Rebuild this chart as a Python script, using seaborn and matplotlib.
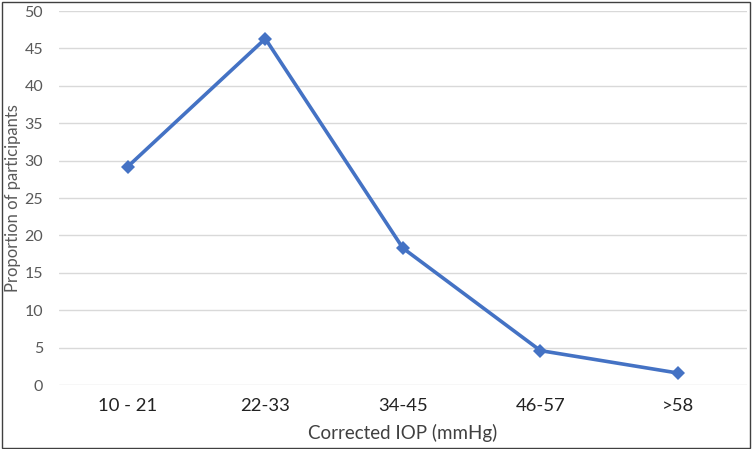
import pandas as pd
import seaborn as sns
import matplotlib.pyplot as plt
from matplotlib.patches import Rectangle

# Data
iop_groups = ['10 - 21', '22-33', '34-45', '46-57', '>58']
proportions = [29.2, 46.3, 18.3, 4.6, 1.6]

df = pd.DataFrame({'group': iop_groups, 'proportion': proportions})

sns.set_theme(style="white")
plt.rcParams['font.family'] = ['Lato', 'DejaVu Sans']

fig = plt.figure(figsize=(7.52, 4.49), dpi=100)
ax = fig.add_axes([0.0785, 0.1425, 0.9145, 0.833])

sns.lineplot(
    data=df,
    x='group',
    y='proportion',
    color='#4472C4',
    linewidth=2.6,
    marker='D',
    markersize=7,
    markeredgewidth=0,
    sort=False,
    ax=ax
)

ax.set_xlim(-0.5, len(iop_groups) - 0.5)
ax.set_ylim(0, 50)
ax.set_yticks(range(0, 51, 5))
ax.yaxis.grid(True, color='#d9d9d9', linewidth=1)
ax.set_axisbelow(True)
for side in ['left', 'right', 'top', 'bottom']:
    ax.spines[side].set_visible(False)

ax.tick_params(axis='y', labelsize=11.5, labelcolor='#595959', length=0, pad=11.5)
ax.tick_params(axis='x', labelsize=13.3, labelcolor='#222222', length=0, pad=9)

ax.set_xlabel('Corrected IOP (mmHg)', fontsize=13.5, color='#404040')
ax.set_ylabel('Proportion of participants', fontsize=12, color='#595959')
ax.yaxis.set_label_coords(-0.056, 0.5)
ax.xaxis.set_label_coords(0.5, -0.103)

# outer border
fig.patches.append(Rectangle((0.002, 0.003), 0.995, 0.993, transform=fig.transFigure,
                             fill=False, edgecolor='#404040', linewidth=1))

plt.savefig("out.png", dpi=100)
